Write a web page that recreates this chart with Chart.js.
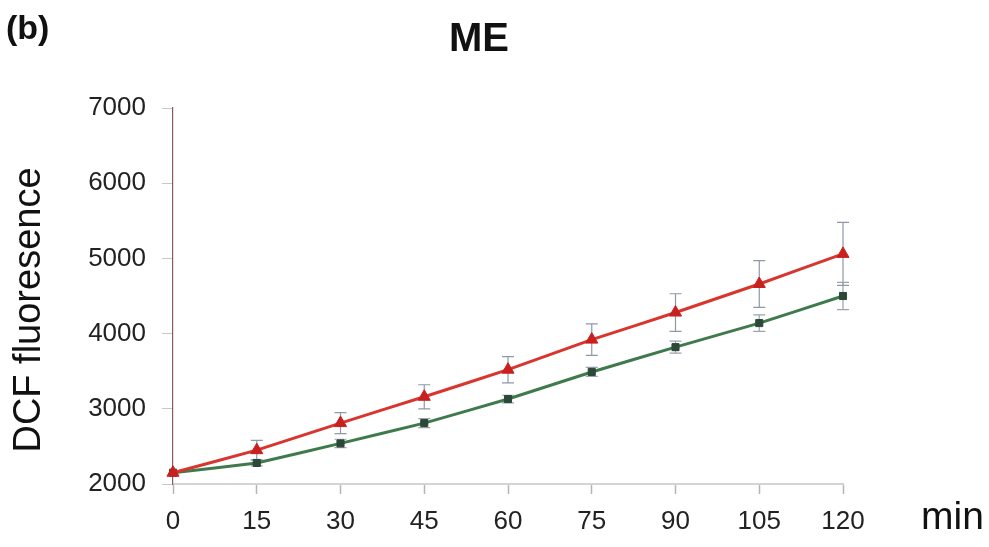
<!DOCTYPE html>
<html>
<head>
<meta charset="utf-8">
<script src="https://cdn.jsdelivr.net/npm/chart.js@4/dist/chart.umd.min.js"></script>
<style>
  html, body { margin: 0; padding: 0; background: #fff; }
</style>
</head>
<body>
<canvas id="line-chartcanvas" width="989" height="547"></canvas>
<script>
// sampling times (min)
var minutes = [0, 15, 30, 45, 60, 75, 90, 105, 120];

// red triangles
var redMean = [2150, 2450, 2810, 3160, 3520, 3920, 4280, 4660, 5060];
var redErr  = [0, 130, 140, 160, 175, 210, 250, 310, 420];

// green squares
var greenMean = [2150, 2280, 2540, 2810, 3130, 3490, 3820, 4140, 4500];
var greenErr  = [0, 40, 55, 60, 50, 60, 80, 110, 180];

var yMin = 2000, yMax = 7000, yStep = 1000;
var xStep = 15;

var font = "Arial, 'Liberation Sans', sans-serif";

function points(means) {
    return minutes.map(function(m, i) { return { x: m, y: means[i] }; });
}

// vertical error bars with caps, drawn under the lines
var errorBars = {
    id: "errorBars",
    beforeDatasetsDraw: function(chart) {
        var ctx = chart.ctx;
        var xs = chart.scales.x, ys = chart.scales.y;
        chart.data.datasets.forEach(function(ds) {
            ctx.save();
            ctx.strokeStyle = ds.errColor;
            ctx.lineWidth = 1.2;
            ds.err.forEach(function(e, i) {
                if (!e) return;
                var px = xs.getPixelForValue(minutes[i]);
                var hi = ys.getPixelForValue(ds.data[i].y + e);
                var lo = ys.getPixelForValue(ds.data[i].y - e);
                ctx.beginPath();
                ctx.moveTo(px, hi); ctx.lineTo(px, lo);
                ctx.moveTo(px - 6, hi); ctx.lineTo(px + 6, hi);
                ctx.moveTo(px - 6, lo); ctx.lineTo(px + 6, lo);
                ctx.stroke();
            });
            ctx.restore();
        });
    }
};

// panel letter, heading, axis captions
var captions = {
    id: "captions",
    afterDraw: function(chart) {
        var ctx = chart.ctx;
        var xs = chart.scales.x;
        ctx.save();
        ctx.fillStyle = "#111";
        ctx.textBaseline = "middle";

        ctx.textAlign = "left";
        ctx.font = "bold 34px " + font;
        ctx.fillText("(b)", 6, 30);

        ctx.textAlign = "center";
        ctx.font = "bold 40px " + font;
        ctx.fillText("ME", 479, 40);

        ctx.textAlign = "left";
        ctx.font = "39px " + font;
        ctx.fillText("min", xs.right + 78, 518);

        ctx.translate(30, 310);
        ctx.rotate(-Math.PI / 2);
        ctx.textAlign = "center";
        ctx.font = "38px " + font;
        ctx.fillText("DCF fluoresence", 0, 0);
        ctx.restore();
    }
};

var ctx = document.getElementById("line-chartcanvas");

var data = {
    datasets: [
        {
            label: "red",
            data: points(redMean),
            err: redErr,
            errColor: "#8f97a8",
            borderColor: "#d9352f",
            backgroundColor: "#c8201e",
            borderWidth: 3,
            pointStyle: "triangle",
            pointRadius: 7,
            pointBorderWidth: 1,
            pointBorderColor: "#c8201e",
            fill: false,
            clip: false,
            tension: 0.05
        },
        {
            label: "green",
            data: points(greenMean),
            err: greenErr,
            errColor: "#9aa2ad",
            borderColor: "#3f7a4c",
            backgroundColor: "#2b4838",
            borderWidth: 3,
            pointStyle: "rect",
            pointRadius: 5,
            pointBorderWidth: 1,
            pointBorderColor: "#2b4838",
            fill: false,
            clip: false,
            tension: 0.05
        }
    ]
};

var options = {
    responsive: false,
    animation: false,
    layout: { padding: { top: 108, right: 146, bottom: 0, left: 0 } },
    plugins: {
        legend: { display: false },
        title: { display: false },
        tooltip: { enabled: false }
    },
    scales: {
        x: {
            type: "linear",
            min: 0,
            max: 120,
            afterFit: function(s) { s.height = 63; },
            ticks: {
                stepSize: xStep,
                padding: 12,
                color: "#222",
                font: { family: font, size: 26 }
            },
            grid: {
                drawOnChartArea: false,
                tickLength: 10,
                tickColor: "#b5b5b5",
                tickWidth: 1.5
            },
            border: { color: "#d4d4d4", width: 2 }
        },
        y: {
            min: yMin,
            max: yMax,
            afterFit: function(s) { s.width = 173; },
            ticks: {
                stepSize: yStep,
                padding: 16,
                color: "#222",
                font: { family: font, size: 26 },
                callback: function(v) { return String(v); }
            },
            grid: {
                drawOnChartArea: false,
                tickLength: 11,
                tickColor: "#c8c8c8",
                tickWidth: 1
            },
            border: { color: "#8a5a5a", width: 1.2 }
        }
    }
};

var chart = new Chart(ctx, {
    type: "line",
    data: data,
    options: options,
    plugins: [errorBars, captions]
});
</script>
</body>
</html>
